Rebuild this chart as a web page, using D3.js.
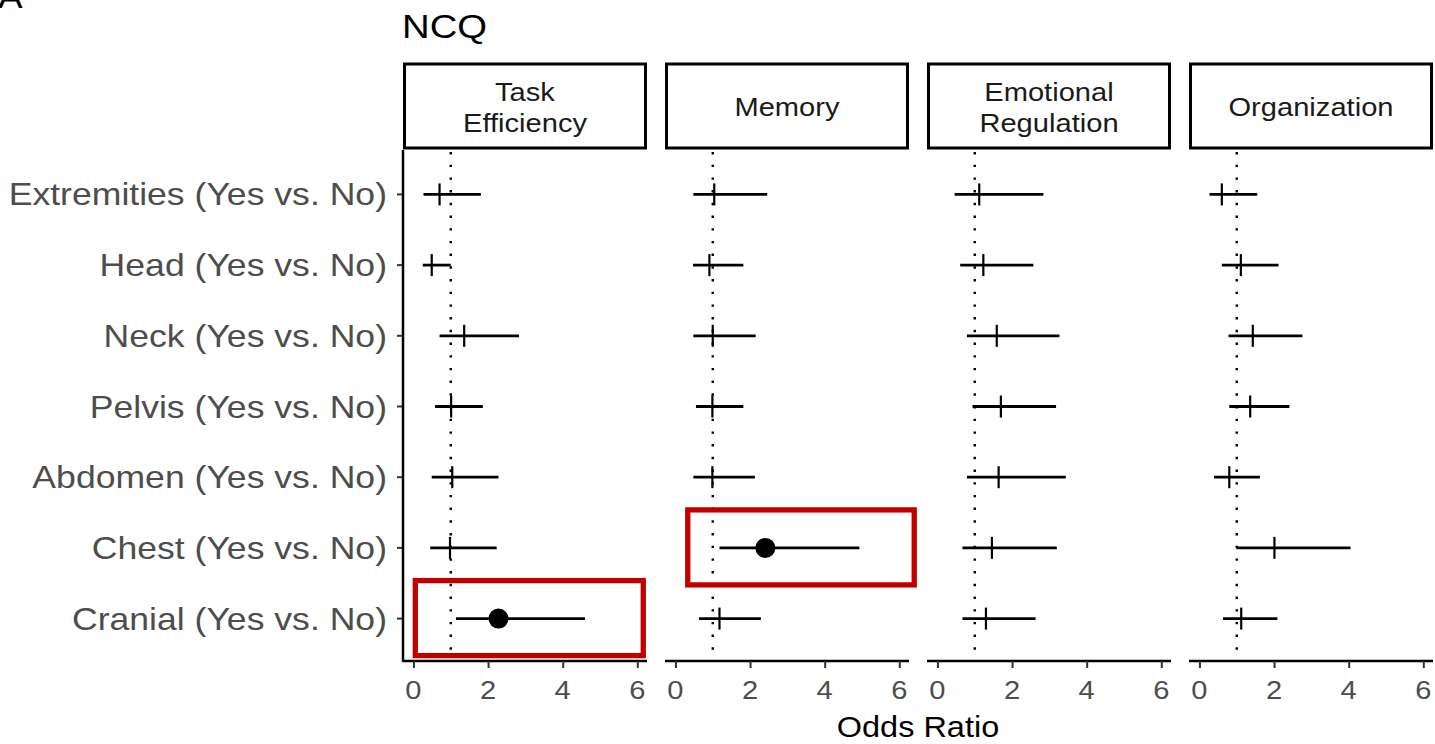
<!DOCTYPE html>
<html>
<head>
<meta charset="utf-8">
<script src="https://cdn.jsdelivr.net/npm/d3@7"></script>
<style>
  html, body { margin: 0; padding: 0; background: #fff; }
  svg { display: block; font-family: "Liberation Sans", Arial, sans-serif; }
</style>
</head>
<body>
<svg id="chart" width="1435" height="744"></svg>
<script>
// rows, top to bottom
const categories = [
  'Extremities (Yes vs. No)',
  'Head (Yes vs. No)',
  'Neck (Yes vs. No)',
  'Pelvis (Yes vs. No)',
  'Abdomen (Yes vs. No)',
  'Chest (Yes vs. No)',
  'Cranial (Yes vs. No)'
];

// facet strips
const outcomes = [['Task', 'Efficiency'], ['Memory'], ['Emotional', 'Regulation'], ['Organization']];

// odds ratio + 95% CI per outcome, same order as categories
const orTask = [0.70, 0.49, 1.36, 1.01, 1.04, 0.98, 2.28];
const loTask = [0.27, 0.25, 0.70, 0.58, 0.49, 0.45, 1.14];
const hiTask = [1.81, 1.00, 2.83, 1.86, 2.28, 2.23, 4.60];

const orMemory = [1.04, 0.91, 1.00, 0.99, 0.99, 2.41, 1.18];
const loMemory = [0.48, 0.47, 0.48, 0.55, 0.48, 1.18, 0.63];
const hiMemory = [2.46, 1.82, 2.15, 1.82, 2.13, 4.93, 2.29];

const orEmotion = [1.12, 1.23, 1.59, 1.70, 1.64, 1.46, 1.30];
const loEmotion = [0.46, 0.61, 0.79, 0.94, 0.79, 0.67, 0.67];
const hiEmotion = [2.84, 2.57, 3.27, 3.18, 3.44, 3.20, 2.63];

const orOrg = [0.60, 1.11, 1.43, 1.36, 0.80, 2.01, 1.12];
const loOrg = [0.27, 0.60, 0.78, 0.80, 0.39, 0.99, 0.63];
const hiOrg = [1.55, 2.12, 2.76, 2.41, 1.62, 4.05, 2.09];

const xTicks = [0, 2, 4, 6];

// red boxes drawn on top
const highlights = [
  { panel: 0, row: 'Cranial (Yes vs. No)', from: 0.05, to: 6.16 },
  { panel: 1, row: 'Chest (Yes vs. No)', from: 0.33, to: 6.40 }
];

const series = [
  { est: orTask, lo: loTask, hi: hiTask },
  { est: orMemory, lo: loMemory, hi: hiMemory },
  { est: orEmotion, lo: loEmotion, hi: hiEmotion },
  { est: orOrg, lo: loOrg, hi: hiOrg }
];

const stretch = 1.12;
const panelX0 = 403;
const panelW = 244;
const panelGap = 18;
const stripTop = 64;
const stripBottom = 150;
const plotTop = 152;
const plotBottom = 661;

const svg = d3.select('#chart');

const x = d3.scaleLinear().domain([-0.28, 6.26]).range([0, panelW]);
const y = d3.scalePoint().domain(categories).range([plotTop, plotBottom]).padding(0.6);

function stretchedText(sel, px, py, str, opts) {
  return sel.append('g')
    .attr('transform', 'translate(' + px + ',' + py + ') scale(' + (opts.sx || stretch) + ',1)')
    .append('text')
    .attr('text-anchor', opts.anchor || 'start')
    .attr('font-size', opts.size)
    .attr('fill', opts.fill || '#000')
    .text(str);
}

// panel letter (cut off at top in the original too) and title
stretchedText(svg, -2, 8, 'A', { size: 33 });
stretchedText(svg, 402, 38, 'NCQ', { size: 33, sx: 1.16 });

// y labels + ticks
categories.forEach(function (c) {
  stretchedText(svg, 387, y(c) + 11, c, { size: 31.5, anchor: 'end', fill: '#4d4d4d', sx: 1.13 });
});
svg.append('g').selectAll('line').data(categories).enter().append('line')
  .attr('x1', panelX0 - 6).attr('x2', panelX0)
  .attr('y1', function (d) { return y(d); }).attr('y2', function (d) { return y(d); })
  .attr('stroke', '#333').attr('stroke-width', 2);

svg.append('line')
  .attr('x1', panelX0).attr('x2', panelX0)
  .attr('y1', stripBottom).attr('y2', plotBottom + 1)
  .attr('stroke', '#000').attr('stroke-width', 2.5);

series.forEach(function (s, p) {
  const left = panelX0 + p * (panelW + panelGap);
  const g = svg.append('g').attr('transform', 'translate(' + left + ',0)');

  // strip
  g.append('rect')
    .attr('x', 1.5).attr('y', stripTop)
    .attr('width', panelW - 3).attr('height', stripBottom - stripTop - 2)
    .attr('fill', '#fff').attr('stroke', '#000').attr('stroke-width', 3);
  const lines = outcomes[p];
  const midY = (stripTop + stripBottom) / 2;
  lines.forEach(function (t, i) {
    const by = midY + 9 + (i - (lines.length - 1) / 2) * 31;
    stretchedText(g, panelW / 2, by, t, { size: 26, anchor: 'middle', fill: '#1a1a1a' });
  });

  // reference line at OR = 1
  g.append('line')
    .attr('x1', x(1)).attr('x2', x(1))
    .attr('y1', plotTop).attr('y2', plotBottom)
    .attr('stroke', '#000').attr('stroke-width', 2.4)
    .attr('stroke-dasharray', '2.4 10.3');

  // bottom axis
  const axis = d3.axisBottom(x).tickValues(xTicks).tickSize(7).tickFormat('');
  const ax = g.append('g').attr('transform', 'translate(0,' + plotBottom + ')').call(axis);
  ax.select('.domain').attr('stroke', '#000').attr('stroke-width', 2.5)
    .attr('d', 'M0,0H' + panelW);
  ax.selectAll('.tick line').attr('stroke', '#333').attr('stroke-width', 2);
  xTicks.forEach(function (t) {
    stretchedText(g, x(t), 699, String(t), { size: 26, anchor: 'middle', fill: '#4d4d4d' });
  });

  // CIs
  g.append('g').selectAll('line').data(categories).enter().append('line')
    .attr('x1', function (d, i) { return x(s.lo[i]); })
    .attr('x2', function (d, i) { return x(s.hi[i]); })
    .attr('y1', function (d) { return y(d); })
    .attr('y2', function (d) { return y(d); })
    .attr('stroke', '#000').attr('stroke-width', 2.8);

  // estimates: tick when CI crosses 1, dot otherwise
  categories.forEach(function (c, i) {
    if (s.lo[i] > 1) {
      g.append('circle')
        .attr('cx', x(s.est[i])).attr('cy', y(c)).attr('r', 10)
        .attr('fill', '#000');
    } else {
      g.append('line')
        .attr('x1', x(s.est[i])).attr('x2', x(s.est[i]))
        .attr('y1', y(c) - 11).attr('y2', y(c) + 11)
        .attr('stroke', '#000').attr('stroke-width', 2.2);
    }
  });
});

// highlight boxes
highlights.forEach(function (h) {
  const left = panelX0 + h.panel * (panelW + panelGap);
  svg.append('rect')
    .attr('x', left + x(h.from)).attr('y', y(h.row) - 38)
    .attr('width', x(h.to) - x(h.from)).attr('height', 75)
    .attr('fill', 'none').attr('stroke', '#c00000').attr('stroke-width', 5.3);
});

// x title
stretchedText(svg, panelX0 + (4 * panelW + 3 * panelGap) / 2, 737, 'Odds Ratio', { size: 29, anchor: 'middle' });
</script>
</body>
</html>
